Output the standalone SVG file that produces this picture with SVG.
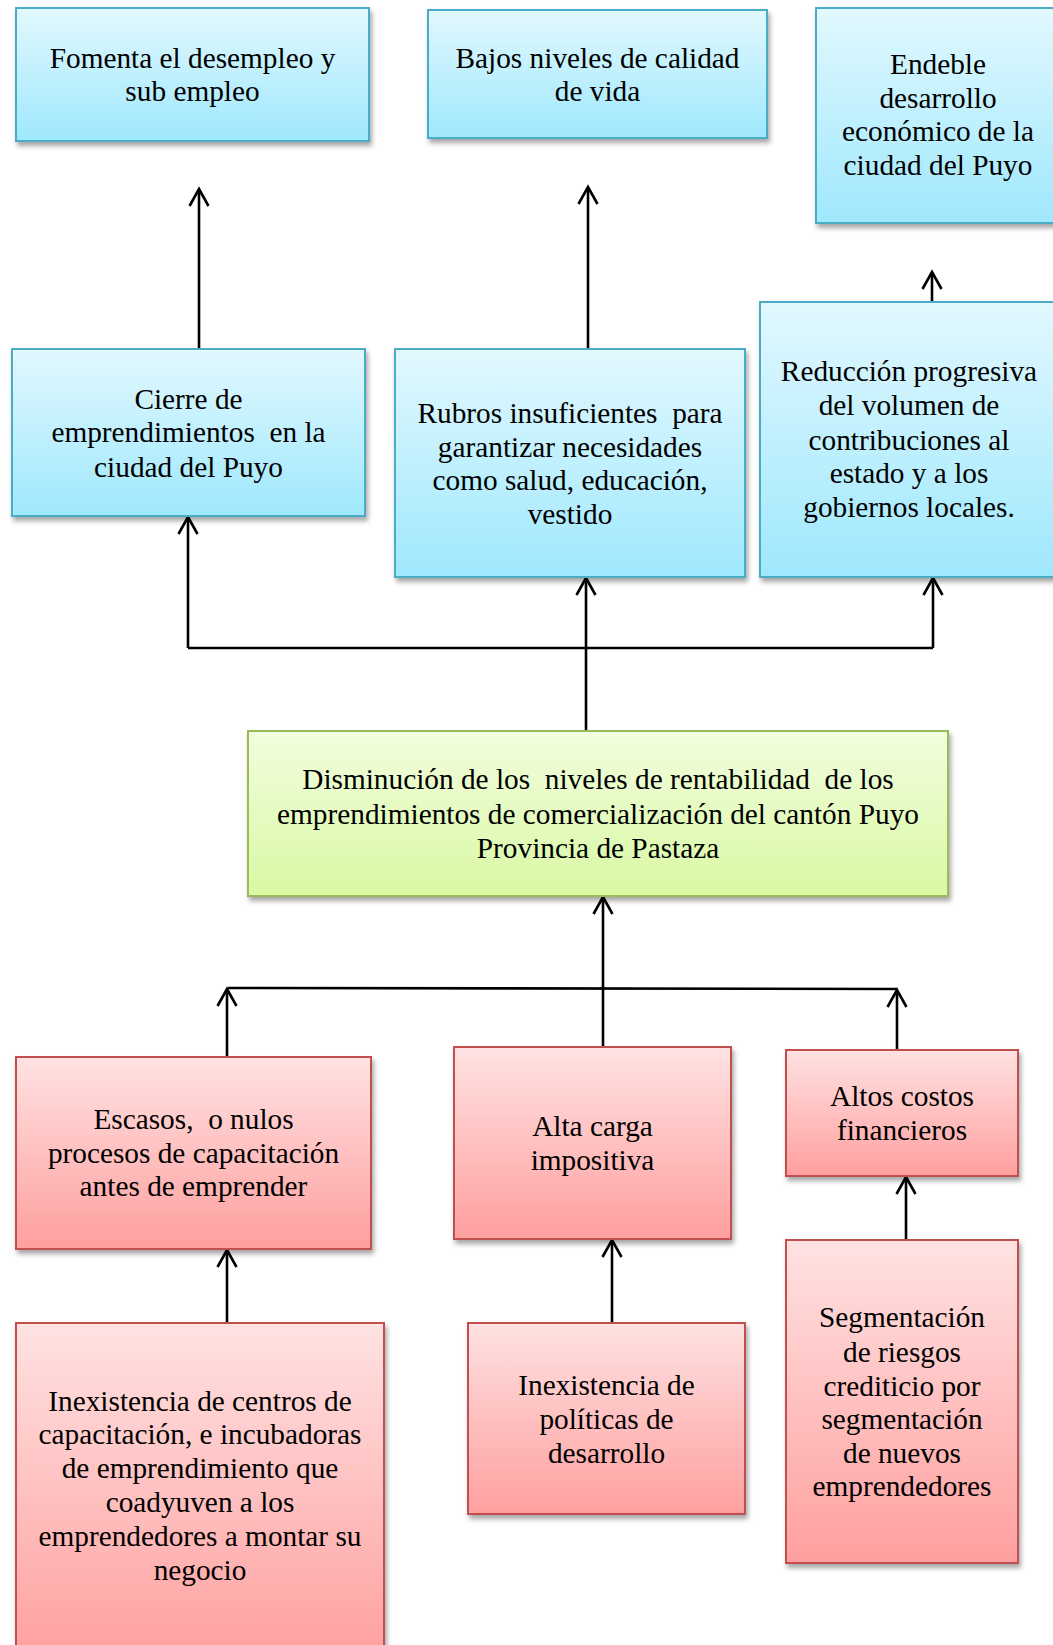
<svg xmlns="http://www.w3.org/2000/svg" width="1053" height="1645" viewBox="0 0 1053 1645">
  <defs>
    <linearGradient id="gBlue" x1="0" y1="0" x2="0" y2="1">
      <stop offset="0" stop-color="#e2f8fe"/>
      <stop offset="1" stop-color="#9fe8fd"/>
    </linearGradient>
    <linearGradient id="gGreen" x1="0" y1="0" x2="0" y2="1">
      <stop offset="0" stop-color="#f2fdde"/>
      <stop offset="1" stop-color="#d8f9a4"/>
    </linearGradient>
    <linearGradient id="gRed" x1="0" y1="0" x2="0" y2="1">
      <stop offset="0" stop-color="#ffe2e2"/>
      <stop offset="1" stop-color="#ff9f9f"/>
    </linearGradient>
    <filter id="shadow" x="-10%" y="-10%" width="130%" height="130%">
      <feDropShadow dx="2" dy="4" stdDeviation="2.5" flood-color="#000" flood-opacity="0.35"/>
    </filter>
    <marker id="arr" markerUnits="userSpaceOnUse" viewBox="-20 -12 24 24" refX="0" refY="0" markerWidth="24" markerHeight="24" orient="auto" overflow="visible">
      <path d="M-17,-9.5 L0,0 L-17,9.5" fill="none" stroke="#000" stroke-width="2.6" stroke-linecap="butt" stroke-linejoin="miter"/>
    </marker>
    <style>
      .blue { fill: url(#gBlue); stroke: #4bacc6; stroke-width: 2; filter: url(#shadow); }
      .green { fill: url(#gGreen); stroke: #9bbb59; stroke-width: 2; filter: url(#shadow); }
      .red { fill: url(#gRed); stroke: #c0504d; stroke-width: 2; filter: url(#shadow); }
      text { font-family: "Liberation Serif", "Times New Roman", serif; font-size: 29.3px; fill: #000; text-anchor: middle; white-space: pre; }
      .c { fill: none; stroke: #000; stroke-width: 2.6; }
      .ca { fill: none; stroke: #000; stroke-width: 2.6; marker-end: url(#arr); }
    </style>
  </defs>

  <g id="connectors">
    <line class="ca" x1="199" y1="349" x2="199" y2="189"/>
    <line class="ca" x1="588" y1="349" x2="588" y2="187"/>
    <line class="ca" x1="932" y1="301" x2="932" y2="272"/>
    <line class="c" x1="188" y1="648" x2="933" y2="648"/>
    <line class="ca" x1="188" y1="648" x2="188" y2="517"/>
    <line class="ca" x1="933" y1="648" x2="933" y2="578"/>
    <line class="ca" x1="586" y1="731" x2="586" y2="578"/>
    <line class="ca" x1="603" y1="1047" x2="603" y2="897"/>
    <line class="c" x1="228" y1="988" x2="897" y2="989"/>
    <line class="ca" x1="227" y1="1057" x2="227" y2="989"/>
    <line class="ca" x1="897" y1="1050" x2="897" y2="990"/>
    <line class="ca" x1="227" y1="1323" x2="227" y2="1250"/>
    <line class="ca" x1="612" y1="1323" x2="612" y2="1240"/>
    <line class="ca" x1="906" y1="1240" x2="906" y2="1177"/>
  </g>

  <g id="n-fomenta">
    <rect class="blue" x="16" y="8" width="353" height="133"/>
    <text x="192.5" y="68">Fomenta el desempleo y</text>
    <text x="192.5" y="101">sub empleo</text>
  </g>
  <g id="n-bajos">
    <rect class="blue" x="428" y="10" width="339" height="128"/>
    <text x="597.5" y="68">Bajos niveles de calidad</text>
    <text x="597.5" y="101">de vida</text>
  </g>
  <g id="n-endeble">
    <rect class="blue" x="816" y="8" width="250" height="215"/>
    <text x="938" y="74">Endeble</text>
    <text x="938" y="108">desarrollo</text>
    <text x="938" y="141">económico de la</text>
    <text x="938" y="175">ciudad del Puyo</text>
  </g>
  <g id="n-cierre">
    <rect class="blue" x="12" y="349" width="353" height="167"/>
    <text x="188.5" y="409">Cierre de</text>
    <text x="188.5" y="442">emprendimientos  en la</text>
    <text x="188.5" y="477">ciudad del Puyo</text>
  </g>
  <g id="n-rubros">
    <rect class="blue" x="395" y="349" width="350" height="228"/>
    <text x="570" y="423">Rubros insuficientes  para</text>
    <text x="570" y="457">garantizar necesidades</text>
    <text x="570" y="490">como salud, educación,</text>
    <text x="570" y="524">vestido</text>
  </g>
  <g id="n-reduccion">
    <rect class="blue" x="760" y="302" width="300" height="275"/>
    <text x="909" y="381">Reducción progresiva</text>
    <text x="909" y="415">del volumen de</text>
    <text x="909" y="450">contribuciones al</text>
    <text x="909" y="483">estado y a los</text>
    <text x="909" y="517">gobiernos locales.</text>
  </g>
  <g id="n-disminucion">
    <rect class="green" x="248" y="731" width="700" height="165"/>
    <text x="598" y="789">Disminución de los  niveles de rentabilidad  de los</text>
    <text x="598" y="824">emprendimientos de comercialización del cantón Puyo</text>
    <text x="598" y="858">Provincia de Pastaza</text>
  </g>
  <g id="n-escasos">
    <rect class="red" x="16" y="1057" width="355" height="192"/>
    <text x="193.5" y="1129">Escasos,  o nulos</text>
    <text x="193.5" y="1163">procesos de capacitación</text>
    <text x="193.5" y="1196">antes de emprender</text>
  </g>
  <g id="n-alta">
    <rect class="red" x="454" y="1047" width="277" height="192"/>
    <text x="592.5" y="1136">Alta carga</text>
    <text x="592.5" y="1170">impositiva</text>
  </g>
  <g id="n-altos">
    <rect class="red" x="786" y="1050" width="232" height="126"/>
    <text x="902" y="1106">Altos costos</text>
    <text x="902" y="1140">financieros</text>
  </g>
  <g id="n-inexistencia-centros">
    <rect class="red" x="16" y="1323" width="368" height="340"/>
    <text x="200" y="1411">Inexistencia de centros de</text>
    <text x="200" y="1444">capacitación, e incubadoras</text>
    <text x="200" y="1478">de emprendimiento que</text>
    <text x="200" y="1512">coadyuven a los</text>
    <text x="200" y="1546">emprendedores a montar su</text>
    <text x="200" y="1580">negocio</text>
  </g>
  <g id="n-inexistencia-politicas">
    <rect class="red" x="468" y="1323" width="277" height="191"/>
    <text x="606.5" y="1395">Inexistencia de</text>
    <text x="606.5" y="1429">políticas de</text>
    <text x="606.5" y="1463">desarrollo</text>
  </g>
  <g id="n-segmentacion">
    <rect class="red" x="786" y="1240" width="232" height="323"/>
    <text x="902" y="1327">Segmentación</text>
    <text x="902" y="1362">de riesgos</text>
    <text x="902" y="1396">crediticio por</text>
    <text x="902" y="1429">segmentación</text>
    <text x="902" y="1463">de nuevos</text>
    <text x="902" y="1496">emprendedores</text>
  </g>
</svg>
